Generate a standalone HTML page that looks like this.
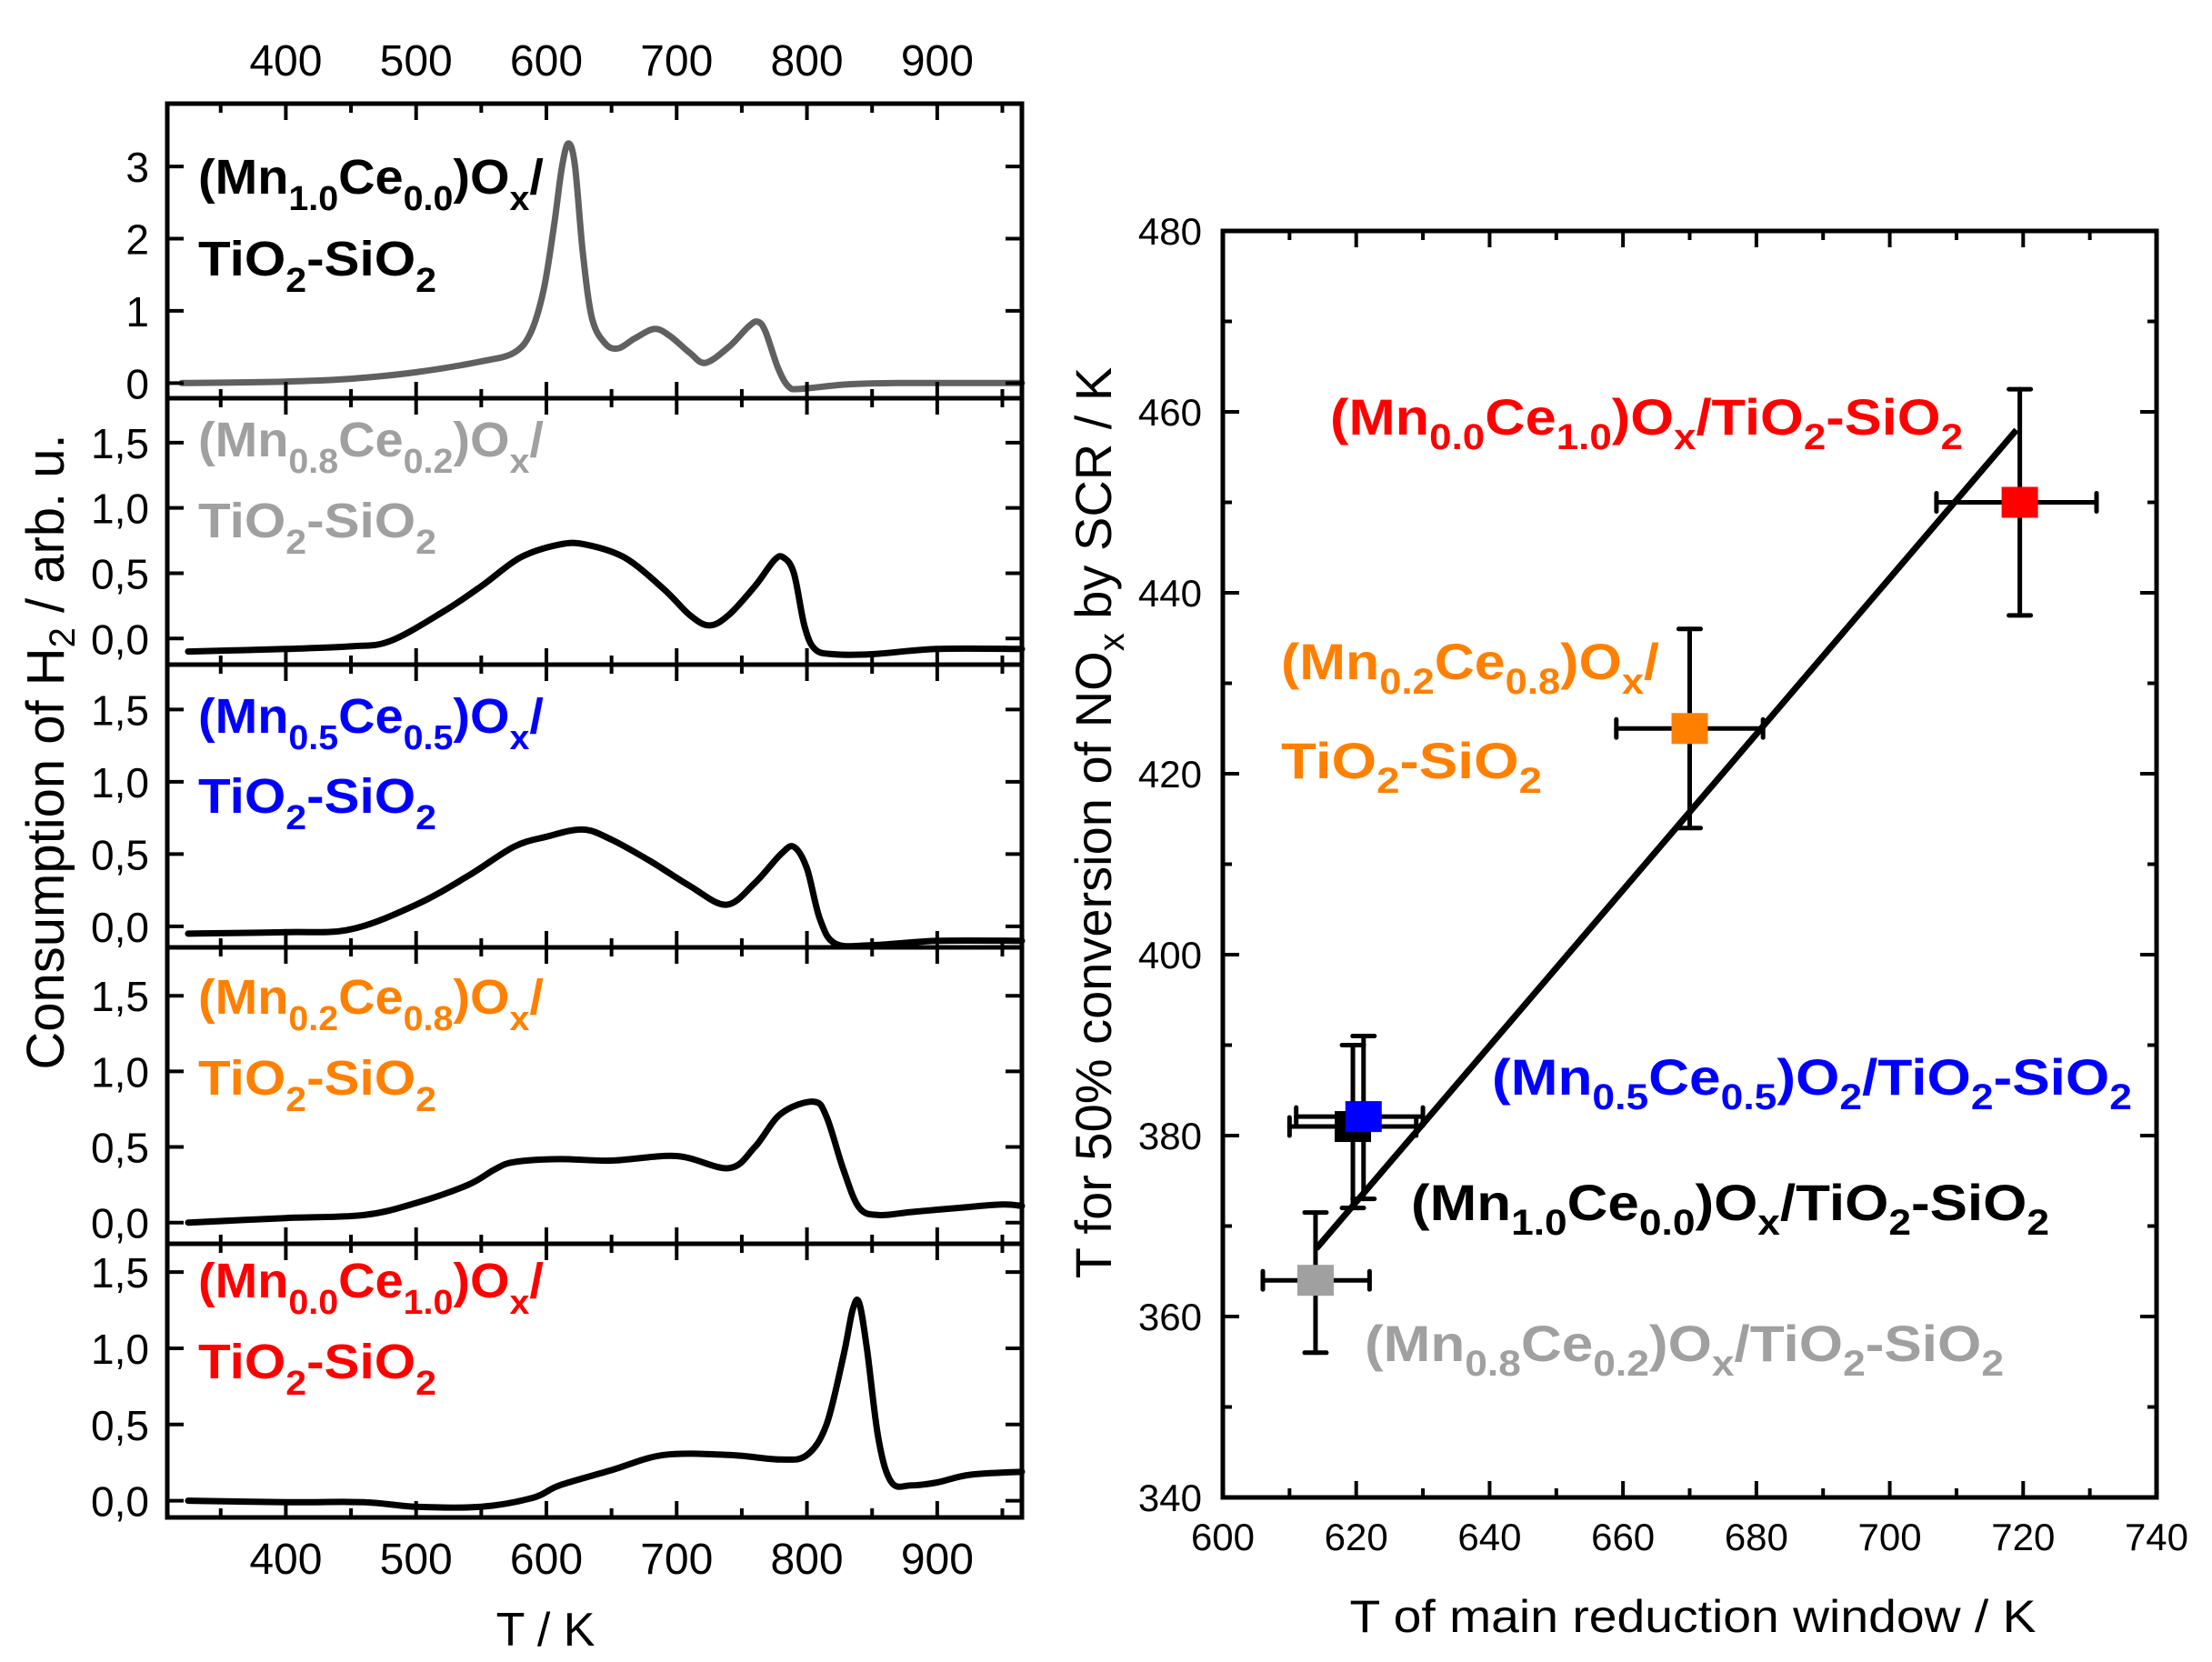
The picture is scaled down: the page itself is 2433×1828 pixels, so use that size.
<!DOCTYPE html>
<html><head><meta charset="utf-8"><style>
html,body{margin:0;padding:0;background:#fff;}
svg{display:block;font-family:"Liberation Sans",Arial,sans-serif;}
</style></head><body>
<svg id="s" width="2433" height="1828" viewBox="0 0 2433 1828" xmlns="http://www.w3.org/2000/svg"></svg>
<script>
var S=document.getElementById('s'),h='';
var XL=184,XR=1124,T0=309,T1=965;
function tx(t){return XL+(t-T0)/(T1-T0)*(XR-XL);}
function smooth(P){var s='M'+P[0][0].toFixed(1)+','+P[0][1].toFixed(1);
 for(var i=0;i<P.length-1;i++){var p0=P[i>0?i-1:i],p1=P[i],p2=P[i+1],p3=P[i+2<P.length?i+2:i+1];
  var c1x=p1[0]+(p2[0]-p0[0])/6,c1y=p1[1]+(p2[1]-p0[1])/6,c2x=p2[0]-(p3[0]-p1[0])/6,c2y=p2[1]-(p3[1]-p1[1])/6;
  s+=' C'+c1x.toFixed(1)+','+c1y.toFixed(1)+' '+c2x.toFixed(1)+','+c2y.toFixed(1)+' '+p2[0].toFixed(1)+','+p2[1].toFixed(1);}
 return s;}
var panels=[
 {top:114,bot:438,ymax:3.87,ymin:-0.21,ticks:[[0,'0'],[1,'1'],[2,'2'],[3,'3']],col:'#606060',
  d:[[320,0],[400,0.02],[450,0.06],[500,0.15],[550,0.3],[575,0.42],[588,0.7],[598,1.3],[606,2.2],[612,3.0],[617,3.32],[622,3.0],[628,1.8],[635,0.9],[645,0.55],[655,0.48],[668,0.62],[683,0.75],[695,0.65],[710,0.42],[722,0.28],[740,0.5],[755,0.78],[762,0.85],[768,0.72],[778,0.2],[786,-0.05],[795,-0.08],[830,-0.02],[870,0],[965,0]],
  lab:['(Mn','1.0','Ce','0.0',')O','x','/'],lc:'#000',b1:213,w1:380,b2:303},
 {top:438,bot:731,ymax:1.84,ymin:-0.2,col:'#000',
  d:[[325,-0.1],[400,-0.08],[450,-0.06],[480,-0.02],[520,0.2],[550,0.4],[580,0.62],[610,0.72],[630,0.72],[660,0.62],[690,0.38],[710,0.18],[725,0.1],[740,0.18],[760,0.4],[775,0.6],[782,0.62],[790,0.5],[798,0.1],[806,-0.08],[820,-0.12],[850,-0.12],[900,-0.08],[965,-0.08]],
  lab:['(Mn','0.8','Ce','0.2',')O','x','/'],lc:'#a0a0a0',b1:502,w1:380,b2:591},
 {top:731,bot:1042,ymax:1.81,ymin:-0.145,col:'#000',
  d:[[325,-0.05],[400,-0.04],[450,-0.02],[500,0.15],[540,0.35],[575,0.55],[600,0.62],[628,0.67],[650,0.6],[680,0.45],[710,0.28],[738,0.15],[760,0.3],[780,0.5],[790,0.55],[800,0.4],[810,0.05],[822,-0.12],[850,-0.13],[900,-0.1],[965,-0.1]],
  lab:['(Mn','0.5','Ce','0.5',')O','x','/'],lc:'#0000ff',b1:806,w1:380,b2:894},
 {top:1042,bot:1368,ymax:1.82,ymin:-0.14,col:'#000',
  d:[[325,0.0],[400,0.03],[460,0.05],[500,0.13],[540,0.25],[560,0.35],[575,0.4],[610,0.42],[650,0.41],[700,0.44],[740,0.36],[760,0.5],[780,0.72],[805,0.8],[815,0.7],[828,0.35],[840,0.1],[855,0.05],[880,0.07],[920,0.1],[950,0.12],[965,0.11]],
  lab:['(Mn','0.2','Ce','0.8',')O','x','/'],lc:'#ff8000',b1:1115,w1:380,b2:1204},
 {top:1368,bot:1669,ymax:1.686,ymin:-0.11,col:'#000',
  d:[[325,0.0],[400,-0.01],[460,-0.01],[500,-0.04],[550,-0.04],[590,0.02],[610,0.1],[650,0.2],[690,0.3],[740,0.3],[780,0.27],[800,0.3],[815,0.5],[828,0.95],[835,1.25],[840,1.3],[846,1.0],[855,0.4],[865,0.12],[880,0.1],[900,0.12],[925,0.17],[965,0.19]],
  lab:['(Mn','0.0','Ce','1.0',')O','x','/'],lc:'#ff0000',b1:1427,w1:380,b2:1516}
];
panels.forEach(function(p,i){
 if(!p.ticks)p.ticks=[[0,'0,0'],[0.5,'0,5'],[1,'1,0'],[1.5,'1,5']];
 function ty(v){return p.bot-(v-p.ymin)/(p.ymax-p.ymin)*(p.bot-p.top);}
 var P=p.d.map(function(a){return [tx(a[0]),ty(a[1])];});
 h+='<path d="'+smooth(P)+'" fill="none" stroke="'+p.col+'" stroke-width="7" stroke-linejoin="round" stroke-linecap="round"/>';
 h+='<rect x="'+XL+'" y="'+p.top+'" width="'+(XR-XL)+'" height="'+(p.bot-p.top)+'" fill="none" stroke="#000" stroke-width="5"/>';
 p.ticks.forEach(function(t){var y=ty(t[0]);
  h+='<line x1="'+XL+'" y1="'+y+'" x2="'+(XL+18)+'" y2="'+y+'" stroke="#000" stroke-width="4"/>';
  h+='<line x1="'+XR+'" y1="'+y+'" x2="'+(XR-18)+'" y2="'+y+'" stroke="#000" stroke-width="4"/>';
  h+='<text x="164" y="'+(y+17)+'" font-size="46" text-anchor="end">'+t[1]+'</text>';
 });
 for(var t=350;t<=950;t+=50){var x=tx(t),L=(t%100==0)?18:10;
  h+='<line x1="'+x+'" y1="'+p.top+'" x2="'+x+'" y2="'+(p.top+L)+'" stroke="#000" stroke-width="4"/>';
  h+='<line x1="'+x+'" y1="'+p.bot+'" x2="'+x+'" y2="'+(p.bot-L)+'" stroke="#000" stroke-width="4"/>';}
 var l=p.lab;
 h+='<text x="218" y="'+p.b1+'" font-size="54" font-weight="bold" fill="'+p.lc+'" textLength="'+p.w1+'" lengthAdjust="spacingAndGlyphs">'+l[0]+'<tspan font-size="38" dy="18">'+l[1]+'</tspan><tspan dy="-18">'+l[2]+'</tspan><tspan font-size="38" dy="18">'+l[3]+'</tspan><tspan dy="-18">'+l[4]+'</tspan><tspan font-size="38" dy="18">'+l[5]+'</tspan><tspan dy="-18">'+l[6]+'</tspan></text>';
 h+='<text x="218" y="'+p.b2+'" font-size="54" font-weight="bold" fill="'+p.lc+'" textLength="262" lengthAdjust="spacingAndGlyphs">TiO<tspan font-size="38" dy="18">2</tspan><tspan dy="-18">-SiO</tspan><tspan font-size="38" dy="18">2</tspan></text>';
});
[400,500,600,700,800,900].forEach(function(t){var x=tx(t);
 h+='<text x="'+x+'" y="83" font-size="48" text-anchor="middle">'+t+'</text>';
 h+='<text x="'+x+'" y="1731" font-size="48" text-anchor="middle">'+t+'</text>';});
h+='<text x="600" y="1810" font-size="52" text-anchor="middle">T / K</text>';
h+='<text transform="translate(70,827) rotate(-90)" font-size="58" text-anchor="middle">Consumption of H<tspan font-size="40" dy="12">2</tspan><tspan dy="-12">  / arb. u.</tspan></text>';

var RL=1345,RR=2372,RT=254,RB=1647;
function rx(v){return RL+(v-600)/140*(RR-RL);}
function ry(v){return RB-(v-340)/140*(RB-RT);}
h+='<rect x="'+RL+'" y="'+RT+'" width="'+(RR-RL)+'" height="'+(RB-RT)+'" fill="none" stroke="#000" stroke-width="5"/>';
for(var v=610;v<740;v+=10){var x=rx(v),L=(v%20==0)?18:10;
 h+='<line x1="'+x+'" y1="'+RB+'" x2="'+x+'" y2="'+(RB-L)+'" stroke="#000" stroke-width="4"/>';
 h+='<line x1="'+x+'" y1="'+RT+'" x2="'+x+'" y2="'+(RT+L)+'" stroke="#000" stroke-width="4"/>';}
for(var v=350;v<480;v+=10){var y=ry(v),L=(v%20==0)?18:10;
 h+='<line x1="'+RL+'" y1="'+y+'" x2="'+(RL+L)+'" y2="'+y+'" stroke="#000" stroke-width="4"/>';
 h+='<line x1="'+RR+'" y1="'+y+'" x2="'+(RR-L)+'" y2="'+y+'" stroke="#000" stroke-width="4"/>';}
for(var v=600;v<=740;v+=20)h+='<text x="'+rx(v)+'" y="1705" font-size="42" text-anchor="middle">'+v+'</text>';
for(var v=340;v<=480;v+=20)h+='<text x="1322" y="'+(ry(v)+15)+'" font-size="42" text-anchor="end">'+v+'</text>';
h+='<text x="1862" y="1795" font-size="50" text-anchor="middle" textLength="755" lengthAdjust="spacingAndGlyphs">T of main reduction window / K</text>';
h+='<text transform="translate(1222,905) rotate(-90)" font-size="56" text-anchor="middle">T for 50% conversion of NO<tspan font-size="40" dy="14">x</tspan><tspan dy="-14"> by SCR / K</tspan></text>';
h+='<line x1="'+rx(614)+'" y1="'+ry(367.5)+'" x2="'+rx(719)+'" y2="'+ry(458)+'" stroke="#000" stroke-width="7"/>';
var pts=[
 [613.9,364,606,622,356,371.5,'#a0a0a0'],
 [619.5,381,610,629,372,390,'#000'],
 [621.1,382.1,611,630,373,391,'#0000ff'],
 [670,425,659,681,414,436,'#ff8000'],
 [719.5,450,707,731,437.5,462.5,'#ff0000']];
pts.forEach(function(p){var x=rx(p[0]),y=ry(p[1]);
 var a=rx(p[2]),b=rx(p[3]),c=ry(p[4]),d=ry(p[5]);
 h+='<g stroke="#000" stroke-width="5" stroke-linecap="round"><line x1="'+a+'" y1="'+y+'" x2="'+b+'" y2="'+y+'"/><line x1="'+x+'" y1="'+c+'" x2="'+x+'" y2="'+d+'"/>'+
 '<line x1="'+a+'" y1="'+(y-10)+'" x2="'+a+'" y2="'+(y+10)+'"/><line x1="'+b+'" y1="'+(y-10)+'" x2="'+b+'" y2="'+(y+10)+'"/>'+
 '<line x1="'+(x-12)+'" y1="'+c+'" x2="'+(x+12)+'" y2="'+c+'"/><line x1="'+(x-12)+'" y1="'+d+'" x2="'+(x+12)+'" y2="'+d+'"/></g>';
 h+='<rect x="'+(x-20)+'" y="'+(y-17)+'" width="40" height="34" fill="'+p[6]+'"/>';
});
function lab(x,y,w,c,parts){var s='<text x="'+x+'" y="'+y+'" font-size="56" font-weight="bold" fill="'+c+'" textLength="'+w+'" lengthAdjust="spacingAndGlyphs">';
 var sub=false;parts.forEach(function(t,i){if(i==0){s+=t;return;}sub=!sub;s+='<tspan font-size="'+(sub?40:56)+'" dy="'+(sub?16:-16)+'">'+t+'</tspan>';});
 return s+'</text>';}
h+=lab(1463,478,696,'#ff0000',['(Mn','0.0','Ce','1.0',')O','x','/TiO','2','-SiO','2']);
h+=lab(1409,747,416,'#ff8000',['(Mn','0.2','Ce','0.8',')O','x','/']);
h+=lab(1409,856,287,'#ff8000',['TiO','2','-SiO','2']);
h+=lab(1641,1204,704,'#0000ff',['(Mn','0.5','Ce','0.5',')O','2','/TiO','2','-SiO','2']);
h+=lab(1552,1342,702,'#000',['(Mn','1.0','Ce','0.0',')O','x','/TiO','2','-SiO','2']);
h+=lab(1501,1497,703,'#a0a0a0',['(Mn','0.8','Ce','0.2',')O','x','/TiO','2','-SiO','2']);
S.innerHTML=h;
</script>
</body></html>
